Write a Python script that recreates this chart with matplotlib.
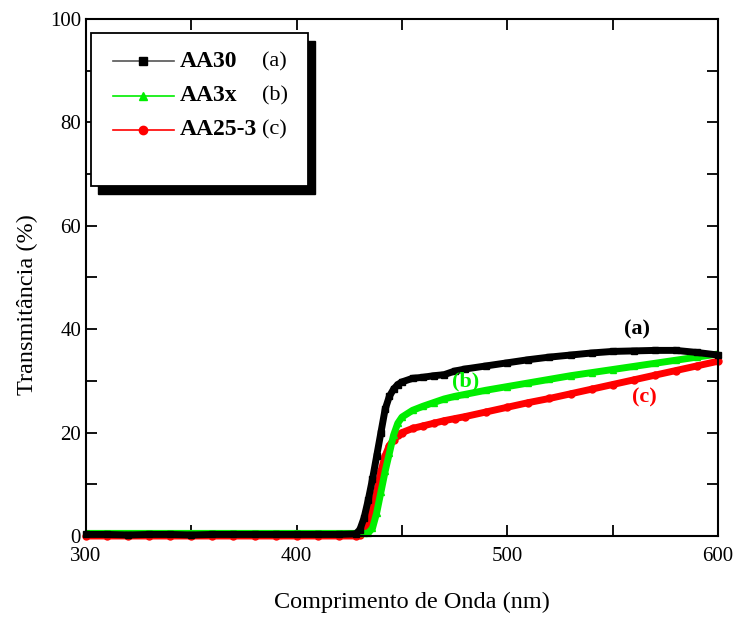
import matplotlib
matplotlib.use("Agg")
from matplotlib import pyplot as plt
from matplotlib.patches import Rectangle
from matplotlib.lines import Line2D

plt.rcParams['font.family'] = ['Liberation Serif', 'DejaVu Serif']

# wavelength (nm)
wl = [300, 310, 320, 330, 340, 350, 360, 370, 380, 390, 400, 410, 420, 428,
      430, 432, 434, 436, 438, 440, 442, 444, 446, 448, 450, 455, 460, 465,
      470, 475, 480, 490, 500, 510, 520, 530, 540, 550, 560, 570, 580, 590, 600]

# AA30 (a)
t_a = [0.3, 0.3, 0.2, 0.3, 0.3, 0.2, 0.3, 0.3, 0.3, 0.3, 0.3, 0.3, 0.3, 0.4,
       1.2, 3.5, 7.0, 11.0, 15.5, 20.0, 24.5, 27.0, 28.4, 29.3, 29.8, 30.5, 30.7, 31.0,
       31.2, 31.9, 32.3, 32.9, 33.5, 34.1, 34.6, 35.0, 35.4, 35.7, 35.8, 35.9, 35.9, 35.5, 35.0]

# AA3x (b)
t_b = [0.5, 0.5, 0.5, 0.5, 0.5, 0.5, 0.5, 0.5, 0.5, 0.5, 0.5, 0.5, 0.5, 0.5,
       0.5, 0.5, 0.6, 1.5, 4.5, 8.5, 12.5, 16.0, 19.5, 21.8, 23.0, 24.3, 25.1, 25.8,
       26.5, 27.0, 27.4, 28.2, 28.9, 29.6, 30.3, 31.0, 31.6, 32.2, 32.8, 33.4, 34.0, 34.6, 35.2]

# AA25-3 (c)
t_c = [0.0, 0.0, 0.0, 0.0, 0.0, 0.0, 0.0, 0.0, 0.0, 0.0, 0.0, 0.0, 0.0, 0.0,
       0.2, 1.0, 2.8, 5.5, 8.5, 12.5, 15.5, 17.5, 18.6, 19.5, 20.0, 20.8, 21.3, 21.8,
       22.3, 22.7, 23.1, 24.0, 24.9, 25.8, 26.6, 27.5, 28.4, 29.3, 30.2, 31.1, 32.0, 32.9, 33.8]

names = ['AA30', 'AA3x', 'AA25-3']
tags = ['(a)', '(b)', '(c)']
colors = ['#000000', '#00ee00', '#ff0000']
markers = ['s', '^', 'o']

fig = plt.figure(figsize=(7.33, 6.19), dpi=100)
ax = fig.add_axes([0.1173, 0.1341, 0.8622, 0.8352])

# draw c first so that b and a sit on top
for y, c, m in [(t_c, colors[2], markers[2]), (t_b, colors[1], markers[1]), (t_a, colors[0], markers[0])]:
    ax.plot(wl, y, color=c, lw=5, marker=m, ms=5, solid_capstyle='butt', clip_on=False)

ax.set_xlim(300, 600)
ax.set_ylim(0, 100)
ax.set_xticks([300, 400, 500, 600])
ax.set_xticks([350, 450, 550], minor=True)
ax.set_yticks([0, 20, 40, 60, 80, 100])
ax.set_yticks([10, 30, 50, 70, 90], minor=True)
ax.tick_params(which='both', direction='in', top=True, right=True, width=1.3, labelsize=15)
ax.tick_params(which='major', length=8)
ax.tick_params(which='minor', length=8)
ax.tick_params(axis='x', pad=8)
for s in ax.spines.values():
    s.set_linewidth(1.5)

ax.set_xlabel('Comprimento de Onda (nm)', fontsize=17.5)
ax.set_ylabel('Transmitância (%)', fontsize=17.5)
ax.xaxis.set_label_coords(0.516, -0.108)
ax.yaxis.set_label_coords(-0.076, 0.447)

# curve tags
ax.text(561.5, 40, '(a)', color=colors[0], fontsize=16, fontweight='bold', ha='center', va='center')
ax.text(480, 29.8, '(b)', color=colors[1], fontsize=16, fontweight='bold', ha='center', va='center')
ax.text(565, 26.7, '(c)', color=colors[2], fontsize=16, fontweight='bold', ha='center', va='center')

# legend box with black shadow
tr = ax.transAxes
ax.add_patch(Rectangle((0.019, 0.662), 0.343, 0.295, transform=tr, facecolor='black',
                       edgecolor='black', zorder=5))
ax.add_patch(Rectangle((0.008, 0.677), 0.343, 0.296, transform=tr, facecolor='white',
                       edgecolor='black', lw=1.3, zorder=6))
ys = [0.918, 0.852, 0.786]
for i in range(3):
    lc = '#555555' if i == 0 else colors[i]
    ax.add_line(Line2D([0.043, 0.139], [ys[i], ys[i]], transform=tr, color=lc, lw=1.2, zorder=7))
    ax.add_line(Line2D([0.090], [ys[i]], transform=tr, color=colors[i], marker=markers[i],
                       ms=6, lw=0, zorder=8))
    ax.text(0.149, ys[i], names[i], transform=tr, fontsize=17, fontweight='bold',
            va='center', ha='left', zorder=8)
    ax.text(0.278, ys[i], tags[i], transform=tr, fontsize=16, va='center', ha='left', zorder=8)

fig.savefig('out.png', dpi=100)
